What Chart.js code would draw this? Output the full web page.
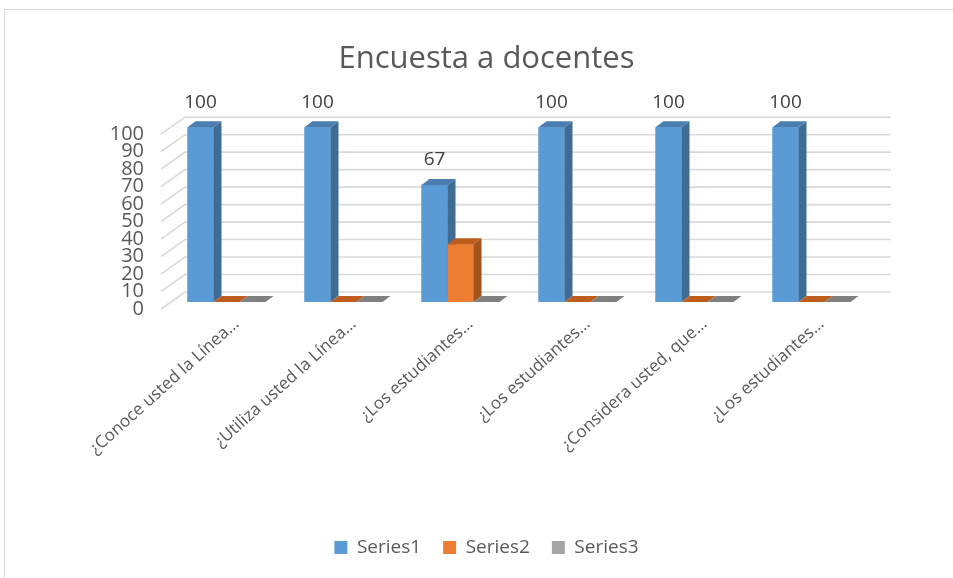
<!DOCTYPE html>
<html>
<head>
<meta charset="utf-8">
<script src="https://cdn.jsdelivr.net/npm/chart.js@4.4.1/dist/chart.umd.min.js"></script>
<style>
  html, body { margin: 0; padding: 0; background: #fff; }
  #wrap { width: 953px; height: 578px; }
</style>
</head>
<body>
<div id="wrap"><canvas id="chart" width="953" height="578"></canvas></div>
<script>
// ── data ──────────────────────────────────────────────────
const categories = [
  '¿Conoce usted la Línea…',
  '¿Utiliza usted la Línea…',
  '¿Los estudiantes…',
  '¿Los estudiantes…',
  '¿Considera usted, que…',
  '¿Los estudiantes…',
];
const series1 = [100, 100, 67, 100, 100, 100];
const series2 = [0, 0, 33, 0, 0, 0];
const series3 = [0, 0, 0, 0, 0, 0];
const seriesNames = ['Series1', 'Series2', 'Series3'];
const yMin = 0, yMax = 100, yStep = 10;

// ── look ──────────────────────────────────────────────────
const TEXT = '#595959';
const FONT = "'Open Sans', 'Liberation Sans', sans-serif";
const FRONT = ['#5B9BD5', '#ED7D31', '#A5A5A5'];
const SIDE  = ['#3F6C95', '#A3531D', '#7A7A7A'];
const TOP   = ['#4A7EB0', '#BE5E1E', '#808080'];
const DX = 8, DY = 6;             // bar depth
const WALL_DX = 24, WALL_DY = 17; // wall depth (grid)

// white background + chart frame
const framePlugin = {
  id: 'frame',
  beforeDraw(chart) {
    const ctx = chart.ctx;
    ctx.save();
    ctx.fillStyle = '#fff';
    ctx.fillRect(0, 0, chart.width, chart.height);
    ctx.strokeStyle = '#d9d9d9';
    ctx.lineWidth = 1;
    ctx.strokeRect(4.5, 9.5, chart.width + 20, chart.height + 20);
    ctx.restore();
  },
};

// grid lines on the back wall, with the diagonal on the side wall
const wallGridPlugin = {
  id: 'wallGrid',
  beforeDatasetsDraw(chart) {
    const { ctx, chartArea, scales } = chart;
    const y = scales.y;
    ctx.save();
    ctx.strokeStyle = '#d9d9d9';
    ctx.lineWidth = 1.6;
    y.ticks.forEach(t => {
      const py = y.getPixelForValue(t.value);
      ctx.beginPath();
      ctx.moveTo(chartArea.left - 7, py + 7);
      ctx.lineTo(chartArea.left + WALL_DX - 7, py + 7 - WALL_DY);
      ctx.lineTo(chartArea.right + 21, py + 7 - WALL_DY);
      ctx.stroke();
    });
    ctx.restore();
  },
};

// repaint every bar as a box: front, side, top — series1 first so the
// next series' front face covers its side
const bar3dPlugin = {
  id: 'bar3d',
  afterDatasetsDraw(chart) {
    const ctx = chart.ctx;
    ctx.save();
    chart.data.datasets.forEach((ds, i) => {
      const meta = chart.getDatasetMeta(i);
      meta.data.forEach(bar => {
        const { x, y, base, width } = bar.getProps(['x', 'y', 'base', 'width'], true);
        const l = x - width / 2, r = x + width / 2;
        // front
        ctx.fillStyle = FRONT[i];
        ctx.fillRect(l, y, width, base - y);
        // side
        ctx.fillStyle = SIDE[i];
        ctx.beginPath();
        ctx.moveTo(r, y);
        ctx.lineTo(r + DX, y - DY);
        ctx.lineTo(r + DX, base - DY);
        ctx.lineTo(r, base);
        ctx.closePath();
        ctx.fill();
        // top
        ctx.fillStyle = TOP[i];
        ctx.beginPath();
        ctx.moveTo(l, y);
        ctx.lineTo(l + DX, y - DY);
        ctx.lineTo(r + DX, y - DY);
        ctx.lineTo(r, y);
        ctx.closePath();
        ctx.fill();
      });
    });

    // value labels, first series only
    const meta = chart.getDatasetMeta(0);
    ctx.fillStyle = '#404040';
    ctx.font = `19px ${FONT}`;
    ctx.textAlign = 'center';
    ctx.textBaseline = 'middle';
    meta.data.forEach((bar, k) => {
      const { x, y } = bar.getProps(['x', 'y'], true);
      ctx.fillText(String(series1[k]), x, y - 25);
    });
    ctx.restore();
  },
};

const mkSet = (label, data, i) => ({
  label,
  data,
  backgroundColor: FRONT[i],
  borderWidth: 0,
  barPercentage: 1,
  categoryPercentage: 78 / 117,
});

new Chart(document.getElementById('chart'), {
  type: 'bar',
  data: {
    labels: categories,
    datasets: [
      mkSet(seriesNames[0], series1, 0),
      mkSet(seriesNames[1], series2, 1),
      mkSet(seriesNames[2], series3, 2),
    ],
  },
  options: {
    responsive: false,
    animation: false,
    layout: { padding: { left: 20, right: 0, top: 0, bottom: 11 } },
    plugins: {
      title: {
        display: true,
        text: 'Encuesta a docentes',
        color: TEXT,
        font: { family: FONT, size: 31, weight: 'normal' },
        padding: { top: 41, bottom: 49 },
      },
      legend: {
        position: 'bottom',
        labels: {
          color: TEXT,
          font: { family: FONT, size: 19 },
          boxWidth: 13,
          boxHeight: 13,
          padding: 22,
        },
      },
      tooltip: { enabled: false },
    },
    scales: {
      x: {
        grid: { display: false, drawTicks: false },
        border: { display: false },
        ticks: {
          color: TEXT,
          font: { family: FONT, size: 17 },
          minRotation: 42,
          maxRotation: 42,
          labelOffset: 10,
          padding: 12,
          autoSkip: false,
        },
        afterFit: s => { s.height = 214; },
      },
      y: {
        min: yMin,
        max: yMax,
        grid: { display: false, drawTicks: false },
        border: { display: false },
        ticks: {
          stepSize: yStep,
          autoSkip: false,
          color: TEXT,
          font: { family: FONT, size: 20 },
          padding: 24,
          labelOffset: 7,
        },
        afterFit: s => { s.width = 148; },
      },
      yRight: {
        position: 'right',
        min: yMin,
        max: yMax,
        grid: { display: false, drawTicks: false },
        border: { display: false },
        ticks: { display: false },
        afterFit: s => { s.width = 83; },
      },
    },
  },
  plugins: [framePlugin, wallGridPlugin, bar3dPlugin],
});
</script>
</body>
</html>
